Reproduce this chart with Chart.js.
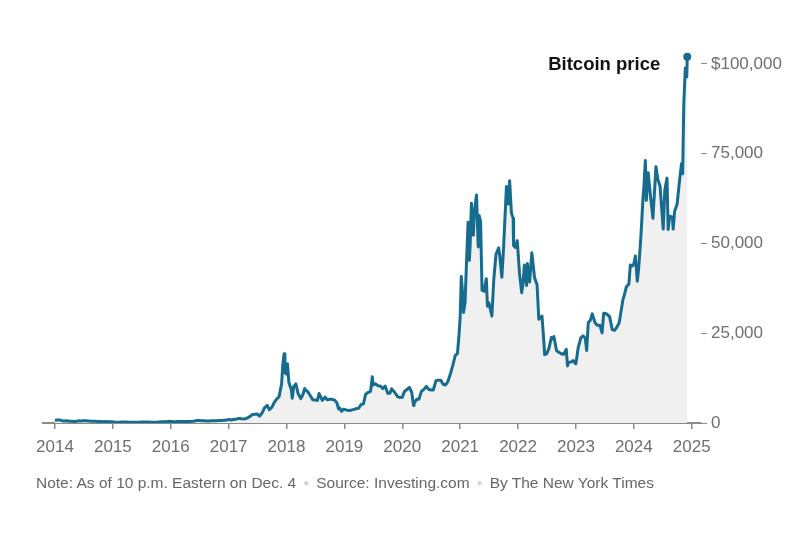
<!DOCTYPE html>
<html>
<head>
<meta charset="utf-8">
<script src="https://cdn.jsdelivr.net/npm/chart.js@4.4.1/dist/chart.umd.min.js"></script>
<style>
  html, body { margin: 0; padding: 0; background: #fff; }
  #wrap { position: relative; width: 800px; height: 536px; }
  #note {
    position: absolute; left: 36px; top: 474px;
    font-family: "Liberation Sans", Arial, sans-serif; font-size: 15.5px; color: #666;
    white-space: nowrap;
  }
  #note .dot { color: #d4d4d4; font-size: 10px; margin: 0 7px; vertical-align: 2px; }
</style>
</head>
<body>
<div id="wrap">
  <canvas id="chart" width="800" height="536"></canvas>
  <div id="note">Note: As of 10 p.m. Eastern on Dec. 4<span class="dot">●</span>Source: Investing.com<span class="dot">●</span>By The New York Times</div>
</div>
<script>
// tick labels
const yearTicks = [2014, 2015, 2016, 2017, 2018, 2019, 2020, 2021, 2022, 2023, 2024, 2025];
const priceTicks = [0, 25000, 50000, 75000, 100000];

// Bitcoin price (USD)
const dates = [
  '2014-01-01','2014-01-15','2014-02-01','2014-02-15','2014-03-01','2014-03-15','2014-04-01','2014-04-15','2014-05-01','2014-05-15','2014-06-01','2014-06-15',
  '2014-07-01','2014-07-15','2014-08-01','2014-08-15','2014-09-01','2014-09-15','2014-10-01','2014-10-15','2014-11-01','2014-11-15','2014-12-01','2014-12-15',
  '2015-01-01','2015-01-15','2015-02-01','2015-02-15','2015-03-01','2015-03-15','2015-04-01','2015-04-15','2015-05-01','2015-05-15','2015-06-01','2015-06-15',
  '2015-07-01','2015-07-15','2015-08-01','2015-08-15','2015-09-01','2015-09-15','2015-10-01','2015-10-15','2015-11-01','2015-11-15','2015-12-01','2015-12-15',
  '2016-01-01','2016-01-15','2016-02-01','2016-02-15','2016-03-01','2016-03-15','2016-04-01','2016-04-15','2016-05-01','2016-05-15','2016-06-01','2016-06-15',
  '2016-07-01','2016-07-15','2016-08-01','2016-08-15','2016-09-01','2016-09-15','2016-10-01','2016-10-15','2016-11-01','2016-11-15','2016-12-01','2016-12-15',
  '2017-01-01','2017-01-15','2017-02-01','2017-02-15','2017-03-01','2017-03-15','2017-04-01','2017-04-15','2017-05-01','2017-05-15','2017-06-01','2017-06-15',
  '2017-07-01','2017-07-15','2017-08-01','2017-08-15','2017-09-01','2017-09-15','2017-10-01','2017-10-15','2017-11-01','2017-11-15','2017-12-01','2017-12-08','2017-12-17','2017-12-22',
  '2018-01-01','2018-01-07','2018-01-16','2018-02-01','2018-02-06','2018-02-15','2018-03-01','2018-03-15','2018-04-01','2018-04-15','2018-04-25','2018-05-01','2018-05-15',
  '2018-06-01','2018-06-15','2018-07-01','2018-07-15','2018-07-25','2018-08-01','2018-08-15','2018-09-01','2018-09-15','2018-10-01','2018-10-15','2018-11-01','2018-11-15','2018-11-25','2018-12-01','2018-12-15','2018-12-25',
  '2019-01-01','2019-01-15','2019-02-01','2019-02-15','2019-03-01','2019-03-15','2019-04-01','2019-04-15','2019-05-01','2019-05-15','2019-06-01','2019-06-15','2019-06-26',
  '2019-07-01','2019-07-15','2019-08-01','2019-08-15','2019-09-01','2019-09-15','2019-10-01','2019-10-15','2019-10-26','2019-11-01','2019-11-15','2019-12-01','2019-12-15',
  '2020-01-01','2020-01-15','2020-02-01','2020-02-15','2020-03-01','2020-03-12','2020-03-15','2020-04-01','2020-04-15','2020-05-01','2020-05-15','2020-06-01','2020-06-15',
  '2020-07-01','2020-07-15','2020-08-01','2020-08-15','2020-09-01','2020-09-15','2020-10-01','2020-10-15','2020-11-01','2020-11-15','2020-12-01','2020-12-15','2020-12-25',
  '2021-01-01','2021-01-08','2021-01-15','2021-01-22','2021-02-01','2021-02-10','2021-02-20','2021-02-28','2021-03-05','2021-03-13','2021-03-25','2021-04-01','2021-04-14','2021-04-25',
  '2021-05-01','2021-05-10','2021-05-19','2021-06-01','2021-06-15','2021-06-22','2021-07-01','2021-07-20','2021-08-01','2021-08-15','2021-09-01','2021-09-07','2021-09-21',
  '2021-10-01','2021-10-20','2021-11-01','2021-11-09','2021-11-20','2021-12-01','2021-12-04','2021-12-15','2021-12-27',
  '2022-01-01','2022-01-10','2022-01-24','2022-02-01','2022-02-10','2022-02-24','2022-03-01','2022-03-15','2022-03-29','2022-04-01','2022-04-15','2022-05-01','2022-05-12','2022-05-20',
  '2022-06-01','2022-06-13','2022-06-18','2022-07-01','2022-07-15','2022-07-30','2022-08-01','2022-08-15','2022-09-01','2022-09-15','2022-10-01','2022-10-15',
  '2022-11-01','2022-11-09','2022-11-15','2022-12-01','2022-12-15','2022-12-30',
  '2023-01-01','2023-01-15','2023-02-01','2023-02-15','2023-03-01','2023-03-10','2023-03-20','2023-04-01','2023-04-14','2023-05-01','2023-05-15','2023-06-01','2023-06-15','2023-06-25',
  '2023-07-01','2023-07-15','2023-08-01','2023-08-18','2023-09-01','2023-09-15','2023-10-01','2023-10-25','2023-11-01','2023-11-15','2023-12-01','2023-12-10','2023-12-20',
  '2024-01-01','2024-01-11','2024-01-23','2024-02-01','2024-02-15','2024-02-28','2024-03-05','2024-03-14','2024-03-20','2024-04-01','2024-04-15','2024-05-01','2024-05-20',
  '2024-06-01','2024-06-15','2024-07-05','2024-07-15','2024-07-29','2024-08-05','2024-08-15','2024-09-01','2024-09-06','2024-09-15','2024-10-01','2024-10-15','2024-10-29',
  '2024-11-05','2024-11-12','2024-11-22','2024-12-01','2024-12-04'
];
const prices = [
  770, 850, 830, 650, 560, 630, 480, 520, 450, 450, 630, 590,
  640, 620, 590, 500, 480, 475, 385, 395, 325, 400, 380, 350,
  315, 210, 225, 235, 260, 285, 245, 220, 235, 235, 225, 235,
  260, 285, 280, 260, 230, 230, 237, 255, 320, 320, 360, 455,
  430, 385, 370, 400, 435, 415, 415, 430, 450, 455, 535, 690,
  670, 660, 605, 570, 575, 605, 615, 640, 730, 710, 750, 780,
  1000, 820, 990, 1010, 1220, 1250, 1080, 1180, 1420, 1800, 2400, 2450,
  2500, 1930, 2870, 4200, 4900, 3700, 4400, 5700, 6700, 7300, 10900, 16000, 19300, 14000,
  13600, 16500, 11300, 9200, 6900, 10100, 10900, 8200, 6800, 8000, 9600, 9200, 8700,
  7500, 6500, 6400, 6300, 8200, 7600, 6300, 7200, 6500, 6600, 6600, 6350, 5600, 3900, 4200, 3250, 3800,
  3800, 3600, 3450, 3600, 3800, 3950, 4100, 5100, 5350, 8000, 8550, 8800, 12900,
  10600, 10900, 10400, 10300, 9600, 10300, 8300, 8300, 9500, 9200, 8500, 7400, 7100,
  7200, 8800, 9400, 9900, 8500, 4900, 5400, 6600, 6600, 8800, 9300, 10200, 9400,
  9200, 9200, 11800, 11900, 11900, 10800, 10600, 11500, 13800, 16000, 18800, 19400, 24700,
  29400, 40800, 37000, 30800, 33500, 44800, 55900, 45300, 49600, 61200, 52300, 58900, 63500, 49000,
  57800, 56000, 37000, 36700, 40200, 32500, 33500, 29800, 39900, 47000, 48800, 46800, 40600,
  48200, 65900, 61000, 67500, 58600, 57000, 49400, 48900, 50800,
  47700, 41800, 36300, 38700, 44000, 38300, 44400, 39300, 47400, 46300, 40500, 38500, 28900, 29200,
  29800, 22500, 19000, 19300, 20800, 23800, 23300, 24100, 20100, 19700, 19300, 19100,
  20500, 15900, 16900, 17000, 17400, 16500,
  16600, 20900, 23700, 24300, 23600, 20200, 28000, 28500, 30400, 28000, 27200, 27200, 25100, 30500,
  30600, 30300, 29700, 26000, 25800, 26600, 27900, 34500, 35400, 37900, 38700, 44000, 43700,
  44200, 46500, 39500, 43100, 52000, 62500, 66000, 73100, 62000, 69700, 63400, 57000, 71400,
  67800, 66000, 54000, 64800, 68200, 53900, 57600, 57300, 54000, 59000, 61000, 67000, 72300,
  69400, 88700, 98900, 96400, 102000
];

function toYear(s) {
  const d = new Date(s + 'T00:00:00Z');
  const y = d.getUTCFullYear();
  const start = Date.UTC(y, 0, 1), end = Date.UTC(y + 1, 0, 1);
  return y + (d.getTime() - start) / (end - start);
}

const points = dates.map((d, i) => ({ x: toYear(d), y: prices[i] }));
const lineColor = 'rgb(22, 108, 142)';
const fontFamily = '"Liberation Sans", Arial, sans-serif';

const labelPlugin = {
  id: 'endLabel',
  afterDatasetsDraw(chart) {
    const pt = chart.getDatasetMeta(0).data[prices.length - 1];
    const ctx = chart.ctx;
    ctx.save();
    ctx.font = 'bold 18.5px ' + fontFamily;
    ctx.fillStyle = '#121212';
    ctx.textAlign = 'right';
    ctx.textBaseline = 'middle';
    ctx.fillText('Bitcoin price', pt.x - 27, 65);
    ctx.restore();
  }
};

new Chart(document.getElementById('chart'), {
  type: 'line',
  data: {
    datasets: [{
      data: points,
      borderColor: lineColor,
      borderWidth: 3,
      backgroundColor: '#f0f0f0',
      fill: 'origin',
      tension: 0,
      borderJoinStyle: 'round',
      pointRadius: ctx => ctx.dataIndex === prices.length - 1 ? 4 : 0,
      pointBackgroundColor: lineColor,
      pointBorderWidth: 0
    }]
  },
  options: {
    responsive: false,
    animation: false,
    layout: { padding: { left: 43, top: 46, right: 0, bottom: 73 } },
    plugins: { legend: { display: false }, tooltip: { enabled: false } },
    scales: {
      x: {
        type: 'linear',
        min: 2013.7927,
        max: 2025.161,
        afterBuildTicks: s => { s.ticks = yearTicks.map(v => ({ value: v })); },
        afterFit: s => { s.height = 40; },
        border: { display: true, color: '#8a8a8a', width: 2 },
        grid: { drawOnChartArea: false, drawTicks: true, tickLength: 6, color: '#8a8a8a', lineWidth: 1.5 },
        ticks: {
          padding: 8,
          maxRotation: 0,
          autoSkip: false,
          color: '#6f6f6f',
          font: { family: fontFamily, size: 17 },
          callback: v => String(v)
        }
      },
      y: {
        position: 'right',
        min: 0,
        max: 105000,
        afterBuildTicks: s => { s.ticks = priceTicks.map(v => ({ value: v })); },
        afterFit: s => { s.width = 99; },
        border: { display: false },
        grid: { drawOnChartArea: false, drawTicks: true, tickLength: 6, color: '#8a8a8a', lineWidth: 1 },
        ticks: {
          padding: 4,
          color: '#6f6f6f',
          font: { family: fontFamily, size: 17 },
          callback: v => v === 0 ? '0' : (v === 100000 ? '$' : '') + v.toLocaleString('en-US')
        }
      }
    }
  },
  plugins: [labelPlugin]
});
</script>
</body>
</html>
